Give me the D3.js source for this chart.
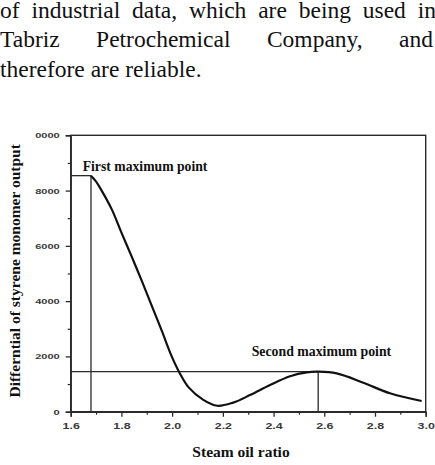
<!DOCTYPE html>
<html>
<head>
<meta charset="utf-8">
<script src="https://cdn.jsdelivr.net/npm/d3@7"></script>
<style>
  body { margin: 0; background: #fff; }
  svg { display: block; }
</style>
</head>
<body>
<svg id="chart" width="435" height="465"></svg>
<script>
// paragraph lines above the figure
const paraLines = [
    'of industrial data, which are being used in',
    'Tabriz Petrochemical Company, and',
    'therefore are reliable.'
];

// curve: steam oil ratio vs differential of styrene output
const steamOil = [1.68, 1.698, 1.722, 1.762, 1.801, 1.841, 1.880, 1.919, 1.959, 1.998, 2.027, 2.066, 2.123, 2.178, 2.241, 2.307, 2.386, 2.465, 2.531, 2.576, 2.649, 2.754, 2.859, 2.984];
const diffOutput = [8540, 8350, 8000, 7320, 6460, 5600, 4740, 3850, 2930, 2010, 1447, 870, 430, 215, 330, 600, 965, 1285, 1425, 1447, 1385, 1049, 665, 387];

const firstMax = { x: 1.68, y: 8540, label: 'First maximum point' };
const secondMax = { x: 2.576, y: 1447, label: 'Second maximum point' };

const xTicks = [1.6, 1.8, 2.0, 2.2, 2.4, 2.6, 2.8, 3.0];
const xMinor = [1.7, 1.9, 2.1, 2.3, 2.5, 2.7, 2.9];
const yTicks = [0, 2000, 4000, 6000, 8000, 10000];
const yMinor = [1000, 3000, 5000, 7000, 9000];

const svg = d3.select('#chart');
const ink = '#2a2a2a';

// --- paragraph text, justified by hand ---
const para = svg.append('g')
    .style('font-family', '"Liberation Serif", "Times New Roman", serif')
    .style('font-size', '23.5px')
    .attr('fill', '#111');
const lineWidths = [436, 433, null];
paraLines.forEach((line, i) => {
    const yBase = 17.5 + i * 29.5;
    const words = line.split(' ');
    if (lineWidths[i] == null) {
        para.append('text').attr('x', 0).attr('y', yBase).text(line);
        return;
    }
    const nodes = words.map(w => para.append('text').attr('y', yBase).text(w));
    const widths = nodes.map(n => n.node().getComputedTextLength());
    const gap = (lineWidths[i] - d3.sum(widths)) / (words.length - 1);
    let cx = 0;
    nodes.forEach((n, j) => {
        n.attr('x', cx);
        cx += widths[j] + gap;
    });
});

// --- chart ---
const x = d3.scaleLinear().domain([1.6, 3.0]).range([70.7, 425.7]);
const y = d3.scaleLinear().domain([0, 10000]).range([411.7, 135.3]);

// frame
svg.append('rect')
    .attr('x', x(1.6))
    .attr('y', y(10000))
    .attr('width', x(3.0) - x(1.6))
    .attr('height', y(0) - y(10000))
    .attr('fill', 'none')
    .attr('stroke', ink)
    .attr('stroke-width', 1.4);

function stretchLabels(g, size) {
    g.selectAll('text')
        .style('font-family', '"Liberation Sans", Arial, sans-serif')
        .style('font-weight', 'bold')
        .style('font-size', size + 'px')
        .attr('fill', '#3a3a3a')
        .each(function () {
            const w = this.getComputedTextLength();
            d3.select(this)
                .attr('textLength', w * 1.38)
                .attr('lengthAdjust', 'spacingAndGlyphs');
        });
}

// x axis
const xAxis = svg.append('g')
    .attr('transform', `translate(0,${y(0)})`)
    .call(d3.axisBottom(x).tickValues(xTicks).tickSize(5).tickPadding(6).tickFormat(d3.format('.1f')));
xAxis.select('.domain').attr('stroke', ink).attr('stroke-width', 1.4);
xAxis.selectAll('.tick line').attr('stroke', ink).attr('stroke-width', 1.3);
stretchLabels(xAxis, 9);

svg.append('g')
    .attr('transform', `translate(0,${y(0)})`)
    .call(d3.axisBottom(x).tickValues(xMinor).tickSize(3).tickFormat(''))
    .call(g => g.select('.domain').remove())
    .selectAll('.tick line').attr('stroke', ink).attr('stroke-width', 1.2);

// y axis (the original figure is cropped, so 10000 shows as "0000")
const yAxis = svg.append('g')
    .attr('transform', `translate(${x(1.6)},0)`)
    .call(d3.axisLeft(y).tickValues(yTicks).tickSize(5).tickPadding(6)
        .tickFormat(d => d === 10000 ? '0000' : String(d)));
yAxis.select('.domain').attr('stroke', ink).attr('stroke-width', 1.4);
yAxis.selectAll('.tick line').attr('stroke', ink).attr('stroke-width', 1.3);
stretchLabels(yAxis, 8);

svg.append('g')
    .attr('transform', `translate(${x(1.6)},0)`)
    .call(d3.axisLeft(y).tickValues(yMinor).tickSize(3).tickFormat(''))
    .call(g => g.select('.domain').remove())
    .selectAll('.tick line').attr('stroke', ink).attr('stroke-width', 1.2);

// guide lines to the two maxima
[firstMax, secondMax].forEach(p => {
    svg.append('line')
        .attr('x1', x(1.6)).attr('x2', x(p.x))
        .attr('y1', y(p.y)).attr('y2', y(p.y))
        .attr('stroke', ink).attr('stroke-width', 1.3);
    svg.append('line')
        .attr('x1', x(p.x)).attr('x2', x(p.x))
        .attr('y1', y(p.y)).attr('y2', y(0))
        .attr('stroke', ink).attr('stroke-width', 1.3);
});

// the curve
const pts = steamOil.map((s, i) => [s, diffOutput[i]]);
svg.append('path')
    .datum(pts)
    .attr('fill', 'none')
    .attr('stroke', '#111')
    .attr('stroke-width', 2.2)
    .attr('d', d3.line().x(d => x(d[0])).y(d => y(d[1])).curve(d3.curveCatmullRom.alpha(0.5)));

// annotation labels
const serifBold = sel => sel
    .style('font-family', '"Liberation Serif", "Times New Roman", serif')
    .style('font-weight', 'bold')
    .attr('fill', '#111');

svg.append('text')
    .attr('x', 82.7).attr('y', 170.7)
    .style('font-size', '13.7px')
    .call(serifBold)
    .text(firstMax.label);

svg.append('text')
    .attr('x', 251.7).attr('y', 355.7)
    .style('font-size', '13.8px')
    .call(serifBold)
    .text(secondMax.label);

// axis titles
svg.append('text')
    .attr('x', 241).attr('y', 456.7)
    .attr('text-anchor', 'middle')
    .style('font-size', '15.5px')
    .call(serifBold)
    .text('Steam oil ratio');

svg.append('text')
    .attr('transform', `translate(19.5,${(141.7 + 400) / 2}) rotate(-90)`)
    .attr('text-anchor', 'middle')
    .style('font-size', '15.5px')
    .call(serifBold)
    .text('Differntial of styrene monomer output');
</script>
</body>
</html>
